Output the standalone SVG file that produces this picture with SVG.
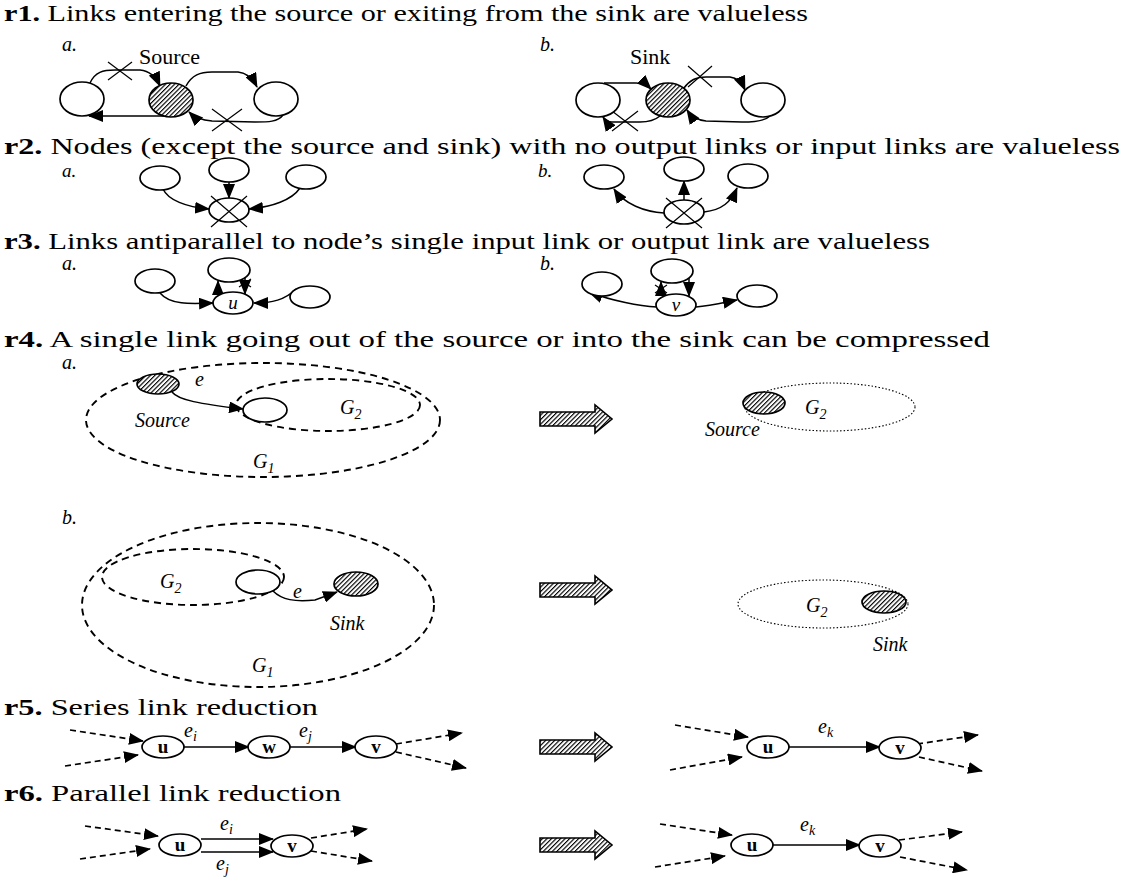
<svg xmlns="http://www.w3.org/2000/svg" width="1128" height="886" viewBox="0 0 1128 886">
<defs>
<pattern id="hatch" width="3.2" height="3.2" patternUnits="userSpaceOnUse" patternTransform="rotate(45)">
<rect width="3.2" height="3.2" fill="#fff"/>
<line x1="0" y1="0" x2="0" y2="3.2" stroke="#000" stroke-width="2.3"/>
</pattern>
<marker id="ah" viewBox="0 0 15 12" refX="14" refY="6" markerWidth="15" markerHeight="12" markerUnits="userSpaceOnUse" orient="auto"><path d="M0,0 L15,6 L0,12 z" fill="#000"/></marker>
<style>
.t{font-family:"Liberation Serif","Times New Roman",serif;font-size:24px;fill:#000}
.b{font-weight:bold}
.i{font-family:"Liberation Serif","Times New Roman",serif;font-style:italic;font-size:20px;fill:#000}
.sub{font-size:14px}
.lb{font-family:"Liberation Serif","Times New Roman",serif;font-weight:bold;font-size:19px;fill:#000;text-anchor:middle}
.li{font-family:"Liberation Serif","Times New Roman",serif;font-style:italic;font-size:19px;fill:#000;text-anchor:middle}
.n{fill:#fff;stroke:#000;stroke-width:1.7}
.s{fill:url(#hatch);stroke:#000;stroke-width:1.7}
.a{fill:none;stroke:#000;stroke-width:1.5;marker-end:url(#ah)}
.d{fill:none;stroke:#000;stroke-width:1.7;stroke-dasharray:6 4;marker-end:url(#ah)}
.gd{fill:none;stroke:#000;stroke-width:1.9;stroke-dasharray:7 5}
.gt{fill:none;stroke:#000;stroke-width:1.1;stroke-dasharray:1.5 2}
.x{fill:none;stroke:#000;stroke-width:1.2}
.big{fill:url(#hatch);stroke:#000;stroke-width:1.6}
</style>
</defs>
<rect width="1128" height="886" fill="#fff"/>

<g id="titles">
<text class="t" x="4" y="21" textLength="804" lengthAdjust="spacingAndGlyphs"><tspan class="b">r1.</tspan> Links entering the source or exiting from the sink are valueless</text>
<text class="t" x="4" y="154" textLength="1116" lengthAdjust="spacingAndGlyphs"><tspan class="b">r2.</tspan> Nodes (except the source and sink) with no output links or input links are valueless</text>
<text class="t" x="4" y="249" textLength="926" lengthAdjust="spacingAndGlyphs"><tspan class="b">r3.</tspan> Links antiparallel to node’s single input link or output link are valueless</text>
<text class="t" x="4" y="347" textLength="986" lengthAdjust="spacingAndGlyphs"><tspan class="b">r4.</tspan> A single link going out of the source or into the sink can be compressed</text>
<text class="t" x="4" y="715" textLength="314" lengthAdjust="spacingAndGlyphs"><tspan class="b">r5.</tspan> Series link reduction</text>
<text class="t" x="4" y="801" textLength="337" lengthAdjust="spacingAndGlyphs"><tspan class="b">r6.</tspan> Parallel link reduction</text>
</g>

<g id="labels">
<text class="i" x="62" y="51">a.</text>
<text class="t" x="139" y="64" style="font-size:22px">Source</text>
<text class="i" x="540" y="51">b.</text>
<text class="t" x="630" y="64" style="font-size:22px">Sink</text>
<text class="i" x="62" y="177" style="font-size:19px">a.</text>
<text class="i" x="538" y="177" style="font-size:19px">b.</text>
<text class="i" x="62" y="270">a.</text>
<text class="i" x="540" y="270">b.</text>
<text class="i" x="62" y="369">a.</text>
<text class="i" x="62" y="524">b.</text>
</g>

<g id="connectors">
<path class="a" d="M90,83 C95,72 103,70 115,70 L140,70 C150,71 156,77 160,86"/>
<path class="x" d="M108,62 L132,80 M108,80 L132,62"/>
<path class="a" d="M186,86 C192,75 200,72 212,72 L238,72 C248,73 253,79 257,87"/>
<path class="a" d="M165,116 L89,116"/>
<path class="a" d="M283,115 C278,122 268,122 255,122 L212,121 C200,120 194,117 189,112"/>
<path class="x" d="M212,109 L242,131 M212,131 L242,109"/>
<path class="a" d="M604,83 L636,83 C643,83 647,85 651,89"/>
<path class="a" d="M684,88 C690,80 696,77 706,77 L730,77 C738,78 742,83 745,90"/>
<path class="x" d="M688,66 L712,87 M688,87 L712,66"/>
<path class="a" d="M660,116 C654,121 648,122 640,122 L612,122 C607,122 605,120 603,117"/>
<path class="x" d="M612,111 L638,131 M612,131 L638,111"/>
<path class="a" d="M770,116 C765,121 755,122 742,122 L706,121 C697,120 691,116 687,110"/>
<path class="a" d="M163,189 C168,200 186,207 209,209"/>
<path class="a" d="M229,181 L229,198"/>
<path class="a" d="M300,188 C292,200 272,207 249,209"/>
<path class="x" d="M211,196 L247,227 M247,196 L211,227"/>
<path class="a" d="M664,213 C645,212 624,204 614,189"/>
<path class="a" d="M684,200 L684,181"/>
<path class="a" d="M704,212 C722,210 731,202 737,188"/>
<path class="x" d="M666,198 L702,228 M702,198 L666,228"/>
<path class="a" d="M160,293 C170,305 190,304 213,303"/>
<path class="a" d="M218,293 L218,281"/>
<path class="a" d="M245,277 L245,294"/>
<path class="x" d="M239,279 L251,287 M239,287 L251,279"/>
<path class="a" d="M296,289 C285,300 272,303 254,303"/>
<path class="a" d="M657,307 C640,306 612,301 589,292"/>
<path class="a" d="M661,296 L661,282"/>
<path class="x" d="M655,285 L667,293 M655,293 L667,285"/>
<path class="a" d="M689,277 L689,296"/>
<path class="a" d="M696,307 C710,306 722,303 737,300"/>
<path class="a" d="M172,392 C178,400 200,404 243,409"/>
<path class="a" d="M273,591 C282,600 295,602 315,600 L337,592"/>
<path class="d" d="M70,730 L143,741"/>
<path class="d" d="M65,766 L138,755"/>
<path class="a" d="M184,747 L249,747"/>
<path class="a" d="M290,747 L356,747"/>
<path class="d" d="M396,744 L462,733"/>
<path class="d" d="M396,752 L466,768"/>
<path class="d" d="M675,725 L748,737"/>
<path class="d" d="M670,770 L742,757"/>
<path class="a" d="M789,747 L880,747"/>
<path class="d" d="M917,744 L978,735"/>
<path class="d" d="M919,757 L982,771"/>
<path class="d" d="M85,826 L158,836"/>
<path class="d" d="M80,859 L150,849"/>
<path class="a" d="M201,839 L273,839"/>
<path class="a" d="M201,852 L273,852"/>
<path class="d" d="M311,838 L367,829"/>
<path class="d" d="M311,851 L372,861"/>
<path class="d" d="M660,824 L732,835"/>
<path class="d" d="M655,867 L725,856"/>
<path class="a" d="M773,845 L860,845"/>
<path class="d" d="M899,840 L962,832"/>
<path class="d" d="M900,857 L967,870"/>
</g>

<g id="r1a-left"><ellipse class="n" cx="82" cy="99" rx="22" ry="17"/></g>
<g id="r1a-source"><ellipse class="s" cx="171" cy="100" rx="22" ry="17"/></g>
<g id="r1a-right"><ellipse class="n" cx="276" cy="99" rx="22" ry="17"/></g>
<g id="r1b-left"><ellipse class="n" cx="598" cy="100" rx="22" ry="17"/></g>
<g id="r1b-sink"><ellipse class="s" cx="668" cy="100" rx="22" ry="17"/></g>
<g id="r1b-right"><ellipse class="n" cx="763" cy="100" rx="22" ry="17"/></g>

<g id="r2a-left"><ellipse class="n" cx="160" cy="178" rx="20" ry="12"/></g>
<g id="r2a-mid"><ellipse class="n" cx="229" cy="170" rx="20" ry="12"/></g>
<g id="r2a-right"><ellipse class="n" cx="306" cy="177" rx="20" ry="12"/></g>
<g id="r2a-x"><ellipse class="n" cx="229" cy="210" rx="20" ry="12" fill-opacity="0"/></g>
<g id="r2b-left"><ellipse class="n" cx="604" cy="177" rx="20" ry="12"/></g>
<g id="r2b-mid"><ellipse class="n" cx="684" cy="169" rx="20" ry="12"/></g>
<g id="r2b-right"><ellipse class="n" cx="748" cy="176" rx="20" ry="12"/></g>
<g id="r2b-x"><ellipse class="n" cx="684" cy="212" rx="20" ry="12" fill-opacity="0"/></g>

<g id="r3a-left"><ellipse class="n" cx="155" cy="281" rx="20" ry="12"/></g>
<g id="r3a-top"><ellipse class="n" cx="229" cy="270" rx="21" ry="12"/></g>
<g id="r3a-right"><ellipse class="n" cx="310" cy="297" rx="20" ry="11"/></g>
<g id="r3a-u"><ellipse class="n" cx="233" cy="303" rx="20" ry="11"/><text class="li" x="233" y="309">u</text></g>
<g id="r3b-left"><ellipse class="n" cx="602" cy="284" rx="20" ry="12"/></g>
<g id="r3b-top"><ellipse class="n" cx="672" cy="271" rx="21" ry="12"/></g>
<g id="r3b-right"><ellipse class="n" cx="757" cy="296" rx="20" ry="11"/></g>
<g id="r3b-v"><ellipse class="n" cx="676" cy="305" rx="20" ry="11"/><text class="li" x="676" y="311">v</text></g>

<g id="r4a-G1"><ellipse class="gd" cx="263" cy="420" rx="177" ry="57"/><text class="i" x="253" y="468">G<tspan class="sub" dy="5">1</tspan></text></g>
<g id="r4a-G2"><ellipse class="gd" cx="328" cy="405" rx="92" ry="26"/><text class="i" x="340" y="414">G<tspan class="sub" dy="5">2</tspan></text></g>
<g id="r4a-source"><ellipse class="s" cx="158" cy="384" rx="21" ry="10"/><text class="i" x="135" y="427">Source</text></g>
<g id="r4a-node"><ellipse class="n" cx="265" cy="410" rx="22" ry="12"/></g>
<text class="i" x="195" y="386">e</text>
<g id="r4a-arrow"><polygon class="big" points="540,412 595,412 595,405 612,419 595,433 595,426 540,426"/></g>
<g id="r4a-G2r"><ellipse class="gt" cx="830" cy="407" rx="85" ry="24"/><text class="i" x="805" y="414">G<tspan class="sub" dy="5">2</tspan></text></g>
<g id="r4a-source-r"><ellipse class="s" cx="764" cy="403" rx="21" ry="11"/><text class="i" x="705" y="436">Source</text></g>

<g id="r4b-G1"><ellipse class="gd" cx="258" cy="605" rx="176" ry="82"/><text class="i" x="252" y="672">G<tspan class="sub" dy="5">1</tspan></text></g>
<g id="r4b-G2"><ellipse class="gd" cx="193" cy="577" rx="91" ry="28"/><text class="i" x="160" y="588">G<tspan class="sub" dy="5">2</tspan></text></g>
<g id="r4b-node"><ellipse class="n" cx="258" cy="582" rx="22" ry="12"/></g>
<text class="i" x="293" y="598">e</text>
<g id="r4b-sink"><ellipse class="s" cx="356" cy="584" rx="22" ry="12"/><text class="i" x="330" y="630">Sink</text></g>
<g id="r4b-arrow"><polygon class="big" points="540,583 595,583 595,576 612,590 595,604 595,597 540,597"/></g>
<g id="r4b-G2r"><ellipse class="gt" cx="823" cy="604" rx="85" ry="24"/><text class="i" x="806" y="612">G<tspan class="sub" dy="5">2</tspan></text></g>
<g id="r4b-sink-r"><ellipse class="s" cx="884" cy="602" rx="22" ry="11"/><text class="i" x="873" y="651">Sink</text></g>

<g id="r5-u"><ellipse class="n" cx="163" cy="747" rx="21" ry="11"/><text class="lb" x="163" y="753">u</text></g>
<g id="r5-w"><ellipse class="n" cx="269" cy="747" rx="21" ry="11"/><text class="lb" x="269" y="753">w</text></g>
<g id="r5-v"><ellipse class="n" cx="376" cy="747" rx="21" ry="11"/><text class="lb" x="376" y="753">v</text></g>
<text class="i" x="184" y="737">e<tspan class="sub" dy="4">i</tspan></text>
<text class="i" x="299" y="737">e<tspan class="sub" dy="4">j</tspan></text>
<g id="r5-arrow"><polygon class="big" points="540,740 595,740 595,733 612,747 595,761 595,754 540,754"/></g>
<g id="r5r-u"><ellipse class="n" cx="768" cy="747" rx="21" ry="11"/><text class="lb" x="768" y="753">u</text></g>
<g id="r5r-v"><ellipse class="n" cx="900" cy="748" rx="21" ry="11"/><text class="lb" x="900" y="754">v</text></g>
<text class="i" x="818" y="733">e<tspan class="sub" dy="4">k</tspan></text>

<g id="r6-u"><ellipse class="n" cx="180" cy="845" rx="21" ry="11"/><text class="lb" x="180" y="851">u</text></g>
<g id="r6-v"><ellipse class="n" cx="292" cy="846" rx="21" ry="11"/><text class="lb" x="292" y="852">v</text></g>
<text class="i" x="220" y="830">e<tspan class="sub" dy="4">i</tspan></text>
<text class="i" x="216" y="870">e<tspan class="sub" dy="4">j</tspan></text>
<g id="r6-arrow"><polygon class="big" points="540,838 595,838 595,831 612,845 595,859 595,852 540,852"/></g>
<g id="r6r-u"><ellipse class="n" cx="752" cy="845" rx="21" ry="11"/><text class="lb" x="752" y="851">u</text></g>
<g id="r6r-v"><ellipse class="n" cx="880" cy="846" rx="21" ry="11"/><text class="lb" x="880" y="852">v</text></g>
<text class="i" x="800" y="831">e<tspan class="sub" dy="4">k</tspan></text>
</svg>
